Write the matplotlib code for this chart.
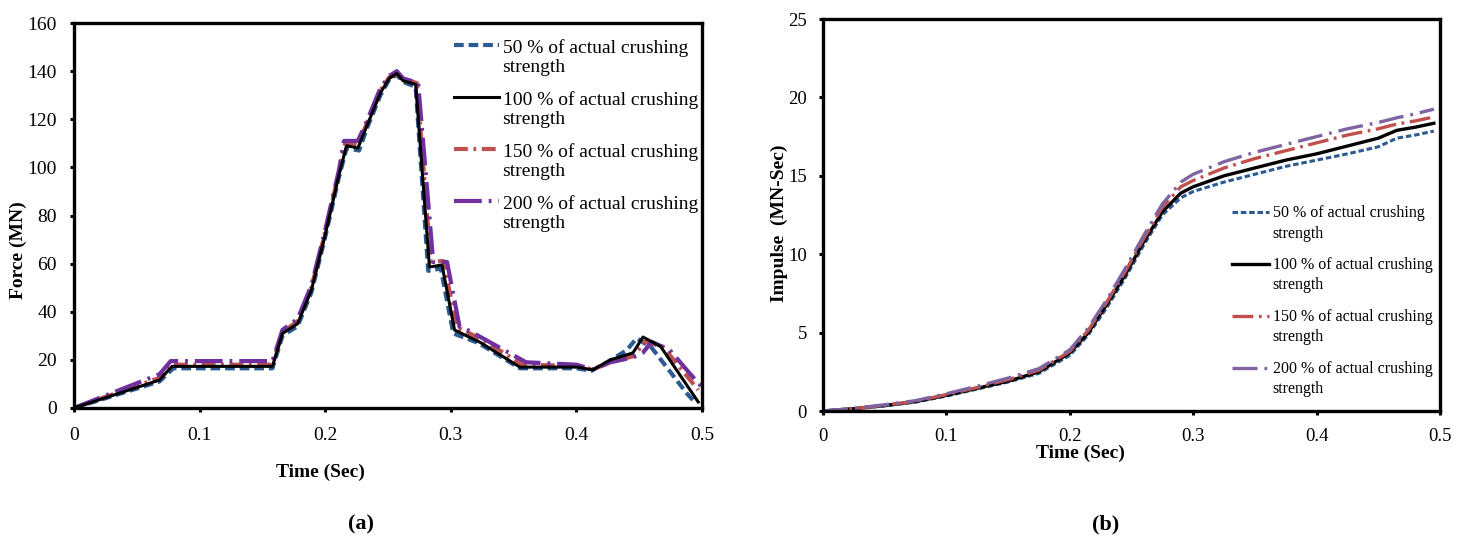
import numpy as np
import matplotlib
matplotlib.use("Agg")
import matplotlib.pyplot as plt
from matplotlib.legend_handler import HandlerLine2D
from matplotlib.ticker import FixedLocator, FixedFormatter

plt.rcParams['font.family'] = ['Liberation Serif', 'DejaVu Serif']
plt.rcParams['lines.scale_dashes'] = False

# ---------------- data ----------------
series_labels = ["50 % of actual crushing\nstrength",
                 "100 % of actual crushing\nstrength",
                 "150 % of actual crushing\nstrength",
                 "200 % of actual crushing\nstrength"]

# Force history (MN) vs time (s)
t_f50 = [0, 0.068, 0.079, 0.158, 0.166, 0.178, 0.189, 0.2, 0.211, 0.217, 0.222, 0.227,
         0.233, 0.244, 0.251, 0.257, 0.262, 0.272, 0.282, 0.292, 0.302, 0.322, 0.355,
         0.40, 0.412, 0.426, 0.44, 0.448, 0.46, 0.488, 0.495]
f50 = [0, 11, 16.5, 16.5, 30, 34, 48, 71, 96, 108, 107.5, 107, 116, 130, 136.5, 138.5,
       135.5, 133.5, 57, 58, 31, 27, 16.5, 16.5, 15.5, 19.5, 24, 29, 25, 6, 2]

t_f100 = [0, 0.068, 0.078, 0.158, 0.166, 0.178, 0.189, 0.2, 0.211, 0.217, 0.222, 0.226,
          0.233, 0.244, 0.251, 0.257, 0.262, 0.272, 0.283, 0.293, 0.303, 0.323, 0.355,
          0.401, 0.413, 0.427, 0.445, 0.453, 0.467, 0.497]
f100 = [0, 11.6, 17.3, 17.3, 31, 35, 49, 72, 97, 109, 108.5, 108, 117, 131, 137, 139,
        136, 134.5, 58.6, 59.4, 32.4, 27.4, 17, 17, 15.8, 20, 22.9, 29.5, 25.6, 2.5]

t_f150 = [0, 0.068, 0.077, 0.158, 0.166, 0.178, 0.189, 0.2, 0.211, 0.216, 0.222, 0.226,
          0.233, 0.244, 0.251, 0.257, 0.262, 0.273, 0.284, 0.294, 0.305, 0.325, 0.357,
          0.40, 0.413, 0.427, 0.445, 0.455, 0.469, 0.497]
f150 = [0, 12.5, 18, 18, 31.5, 36, 50, 73, 98, 110, 110, 109.5, 118, 132, 137.5, 138.5,
        137, 135, 61, 61, 33.5, 28.5, 18, 17.5, 16, 19, 21.5, 27.5, 25.4, 7.5]

t_f200 = [0, 0.068, 0.077, 0.158, 0.166, 0.178, 0.189, 0.2, 0.211, 0.215, 0.222, 0.226,
          0.233, 0.244, 0.251, 0.257, 0.262, 0.274, 0.286, 0.297, 0.307, 0.315, 0.36,
          0.40, 0.413, 0.427, 0.445, 0.453, 0.46, 0.4745, 0.49, 0.5]
f200 = [0, 14, 19.5, 19.5, 32.5, 37, 51, 74, 99, 111, 111, 111, 119, 133, 138, 140,
        137, 135, 60.7, 60.7, 33.7, 32, 19, 18, 16, 19, 21, 23, 27.5, 24, 14.5, 8.7]

# Impulse history (MN-s) vs time (s)
t_imp = [0, 0.025, 0.05, 0.075, 0.1, 0.125, 0.15, 0.175, 0.2, 0.215, 0.23, 0.245, 0.26,
         0.275, 0.29, 0.3, 0.325, 0.35, 0.375, 0.4, 0.425, 0.45, 0.465, 0.48, 0.495]
imp50 = [0, 0.13, 0.32, 0.57, 0.95, 1.4, 1.85, 2.4, 3.55, 4.85, 6.6, 8.5, 10.6, 12.5,
         13.6, 14.0, 14.6, 15.1, 15.6, 16.0, 16.4, 16.85, 17.4, 17.6, 17.85]
imp100 = [0, 0.15, 0.35, 0.6, 1.0, 1.45, 1.9, 2.5, 3.7, 5.0, 6.8, 8.7, 10.8, 12.7,
          13.9, 14.3, 15.0, 15.5, 16.0, 16.4, 16.9, 17.4, 17.9, 18.1, 18.35]
imp150 = [0, 0.15, 0.37, 0.62, 1.05, 1.5, 2.0, 2.6, 3.8, 5.15, 6.95, 8.9, 11.0, 13.0,
          14.3, 14.7, 15.5, 16.1, 16.6, 17.1, 17.6, 18.0, 18.3, 18.5, 18.75]
imp200 = [0, 0.17, 0.4, 0.66, 1.1, 1.58, 2.1, 2.7, 3.9, 5.3, 7.1, 9.1, 11.2, 13.2,
          14.6, 15.1, 15.9, 16.5, 17.0, 17.5, 18.0, 18.4, 18.7, 18.95, 19.25]

time_ticks = [0, 0.1, 0.2, 0.3, 0.4, 0.5]
time_tick_labels = ["0", "0.1", "0.2", "0.3", "0.4", "0.5"]
force_ticks = [0, 20, 40, 60, 80, 100, 120, 140, 160]
impulse_ticks = [0, 5, 10, 15, 20, 25]


class FirstLineHandler(HandlerLine2D):
    """Place the legend line level with the first line of a two-line label."""
    def __init__(self, lift, **kw):
        super().__init__(**kw)
        self.lift = lift

    def create_artists(self, legend, orig_handle, xdescent, ydescent, width,
                       height, fontsize, trans):
        arts = super().create_artists(legend, orig_handle, xdescent, ydescent,
                                      width, height, fontsize, trans)
        for a in arts:
            a.set_ydata(np.asarray(a.get_ydata(), dtype=float) + self.lift)
        return arts


def style_axes(ax, ylim, yticks, xpad, ypad, fs):
    ax.set_xlim(0, 0.5)
    ax.set_ylim(*ylim)
    ax.xaxis.set_major_locator(FixedLocator(time_ticks))
    ax.xaxis.set_major_formatter(FixedFormatter(time_tick_labels))
    ax.yaxis.set_major_locator(FixedLocator(yticks))
    for s in ax.spines.values():
        s.set_linewidth(2.4)
    ax.tick_params(axis='both', direction='out', length=3, width=2.2, labelsize=fs)
    ax.tick_params(axis='x', pad=xpad)
    ax.tick_params(axis='y', pad=ypad)


fig = plt.figure(figsize=(14.64, 5.54), dpi=100)

blue = '#2C5A93'
black = '#000000'
red = '#C0504D'
purple_a = '#7030A0'
purple_b = '#8064A2'

# ---------------- (a) force ----------------
ax1 = fig.add_axes([74 / 1464, 1 - 408 / 554, 628 / 1464, 385 / 554])
l1, = ax1.plot(t_f50, f50, color=blue, lw=3.0, dashes=(7, 3.5), dash_capstyle='butt',
               label=series_labels[0])
l3, = ax1.plot(t_f150, f150, color=red, lw=3.0, dashes=(10, 4, 2, 4), dash_capstyle='butt',
               label=series_labels[2])
l4, = ax1.plot(t_f200, f200, color=purple_a, lw=3.0, dashes=(20, 5, 2, 5),
               dash_capstyle='butt', label=series_labels[3])
l2, = ax1.plot(t_f100, f100, color=black, lw=2.2, label=series_labels[1])

style_axes(ax1, (0, 160), force_ticks, xpad=11, ypad=9.5, fs=14)
ax1.set_xlabel("Time (Sec)", fontsize=14, fontweight='bold')
ax1.xaxis.set_label_coords(0.393, -0.166)
ax1.xaxis.label.set_verticalalignment('center')
ax1.set_ylabel("Force (MN)", fontsize=14, fontweight='bold')
ax1.yaxis.set_label_coords(-0.089, 0.41)
ax1.yaxis.label.set_verticalalignment('center')

hmap_a = {h: FirstLineHandler(lift=8.7) for h in (l1, l2, l3, l4)}
leg1 = ax1.legend([l1, l2, l3, l4], series_labels, loc='upper left',
                  bbox_to_anchor=(0.605, 0.959), frameon=False, fontsize=14,
                  handlelength=2.3, handletextpad=0.2, labelspacing=0.78,
                  borderpad=0, borderaxespad=0, handler_map=hmap_a)
for txt in leg1.get_texts():
    txt.set_linespacing(1.15)

# ---------------- (b) impulse ----------------
ax2 = fig.add_axes([823 / 1464, 1 - 411 / 554, 617 / 1464, 392 / 554])
m1, = ax2.plot(t_imp, imp50, color=blue, lw=2.2, dashes=(4, 2), dash_capstyle='butt',
               label=series_labels[0])
m2, = ax2.plot(t_imp, imp100, color=black, lw=2.4, label=series_labels[1])
m3, = ax2.plot(t_imp, imp150, color=red, lw=2.4, dashes=(15, 4, 2, 4),
               dash_capstyle='butt', label=series_labels[2])
m4, = ax2.plot(t_imp, imp200, color=purple_b, lw=2.4, dashes=(18, 5, 2, 5),
               dash_capstyle='butt', label=series_labels[3])

style_axes(ax2, (0, 25), impulse_ticks, xpad=9.5, ypad=8.7, fs=13.5)
ax2.set_xlabel("Time (Sec)", fontsize=14, fontweight='bold')
ax2.xaxis.set_label_coords(0.417, -0.108)
ax2.xaxis.label.set_verticalalignment('center')
ax2.set_ylabel("Impulse  (MN-Sec)", fontsize=14, fontweight='bold')
ax2.yaxis.set_label_coords(-0.071, 0.48)
ax2.yaxis.label.set_verticalalignment('center')

hmap_b = {h: FirstLineHandler(lift=8.3) for h in (m1, m2, m3, m4)}
leg2 = ax2.legend([m1, m2, m3, m4], series_labels, loc='upper left',
                  bbox_to_anchor=(0.663, 0.525), frameon=False, fontsize=11.5,
                  handlelength=2.3, handletextpad=0.25, labelspacing=0.97,
                  borderpad=0, borderaxespad=0, handler_map=hmap_b)
for txt in leg2.get_texts():
    txt.set_linespacing(1.36)

fig.text(361 / 1464, 1 - 524 / 554, "(a)", fontsize=16, fontweight='bold',
         ha='center', va='center')
fig.text(1106 / 1464, 1 - 524 / 554, "(b)", fontsize=16, fontweight='bold',
         ha='center', va='center')

fig.savefig("out.png", dpi=100, facecolor='white')
